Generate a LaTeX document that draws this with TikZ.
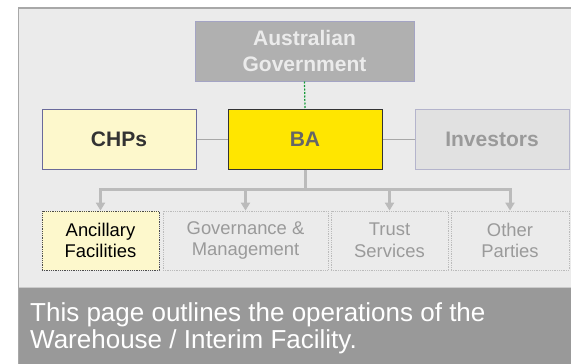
\documentclass[tikz,border=0pt]{standalone}
\usepackage{fontspec}
\setmainfont{Liberation Sans}
\usetikzlibrary{arrows.meta}

\definecolor{panelbg}{HTML}{EBEBEB}
\definecolor{panelrule}{HTML}{A8A8A8}
\definecolor{bandbg}{HTML}{999999}
\definecolor{govfill}{HTML}{B0B0B0}
\definecolor{govrule}{HTML}{A4A4C4}
\definecolor{paleyel}{HTML}{FDF8CC}
\definecolor{navyrule}{HTML}{6A6A9A}
\definecolor{bayel}{HTML}{FFE600}
\definecolor{invfill}{HTML}{E1E1E1}
\definecolor{invrule}{HTML}{B4B4CC}
\definecolor{linkgray}{HTML}{A8A8A8}
\definecolor{treegray}{HTML}{BBBBBB}
\definecolor{dimtext}{HTML}{9A9A9A}
\definecolor{dotgreen}{HTML}{129A36}

\begin{document}
\begin{tikzpicture}[x=1pt,y=-1pt,
	topbox/.style={draw, line width=1pt, minimum width=154pt, minimum height=60pt, inner sep=0pt,
		font=\fontsize{21}{26}\selectfont\bfseries},
	subbox/.style={draw=treegray, densely dotted, line width=0.8pt, fill=panelbg, minimum height=59pt,
		inner sep=0pt, align=center, text=dimtext, font=\fontsize{18.4}{21.5}\selectfont},
	trunk/.style={treegray, line width=3pt},
	link/.style={linkgray, line width=1pt}]
	\useasboundingbox (0,0) rectangle (571,364);
	% panel and text band
	\fill[panelbg] (18.5,8) rectangle (572,287);
	\draw[panelrule, line width=1.2pt] (18.5,364) -- (18.5,8) -- (572,8);
	\fill[bandbg] (18.5,288) rectangle (572,364);
	\draw[panelrule!60, line width=1pt] (18.5,287.5) -- (572,287.5);
	\draw[panelrule, line width=1pt] (18.5,287) -- (18.5,364);

	% top row
	\node[topbox, fill=govfill, draw=govrule, text=panelbg, minimum width=219pt, align=center] (gvt) at (304.5,51) {Australian\\Government};
	\node[topbox, fill=paleyel, draw=navyrule, text=black!80] (chp) at (119,139) {CHPs};
	\node[topbox, fill=bayel, draw=black!80, text=black!60] (ba) at (305,139) {BA};
	\node[topbox, fill=invfill, draw=invrule, text=dimtext] (inv) at (492,139) {Investors};
	\draw[link] (chp) -- (ba);
	\draw[link] (ba) -- (inv);
	\draw[dotgreen, dash pattern=on 2pt off 1.5pt, line width=1.2pt] (gvt.south) -- (ba.north);

	% sub row
	\node[subbox, minimum width=117pt, fill=paleyel, draw=black!70, text=black] (anc) at (100.5,240.5) {Ancillary\\Facilities};
	\node[subbox, minimum width=165pt] (gov) at (245.5,240.5) {Governance \&\\Management};
	\node[subbox, minimum width=117pt] (tru) at (389.5,240.5) {Trust\\Services};
	\node[subbox, minimum width=118pt] (oth) at (510,240.5) {Other\\Parties};

	\coordinate (bus) at (0,189);
	\draw[trunk] (ba.south) -- (ba.south |- bus);
	\draw[trunk, line cap=rect] (anc.north |- bus) -- (oth.north |- bus);
	\foreach \n in {anc,gov,tru,oth}
		\draw[trunk, -{Triangle[width=9pt,length=8pt]}] (\n.north |- bus) -- (\n.north);

	\node[anchor=north west, inner sep=0pt, align=left, text=white,
		font=\fontsize{26}{27}\selectfont] (note) at (30,302.5)
		{This page outlines the operations of the\\Warehouse / Interim Facility.};
\end{tikzpicture}
\end{document}
